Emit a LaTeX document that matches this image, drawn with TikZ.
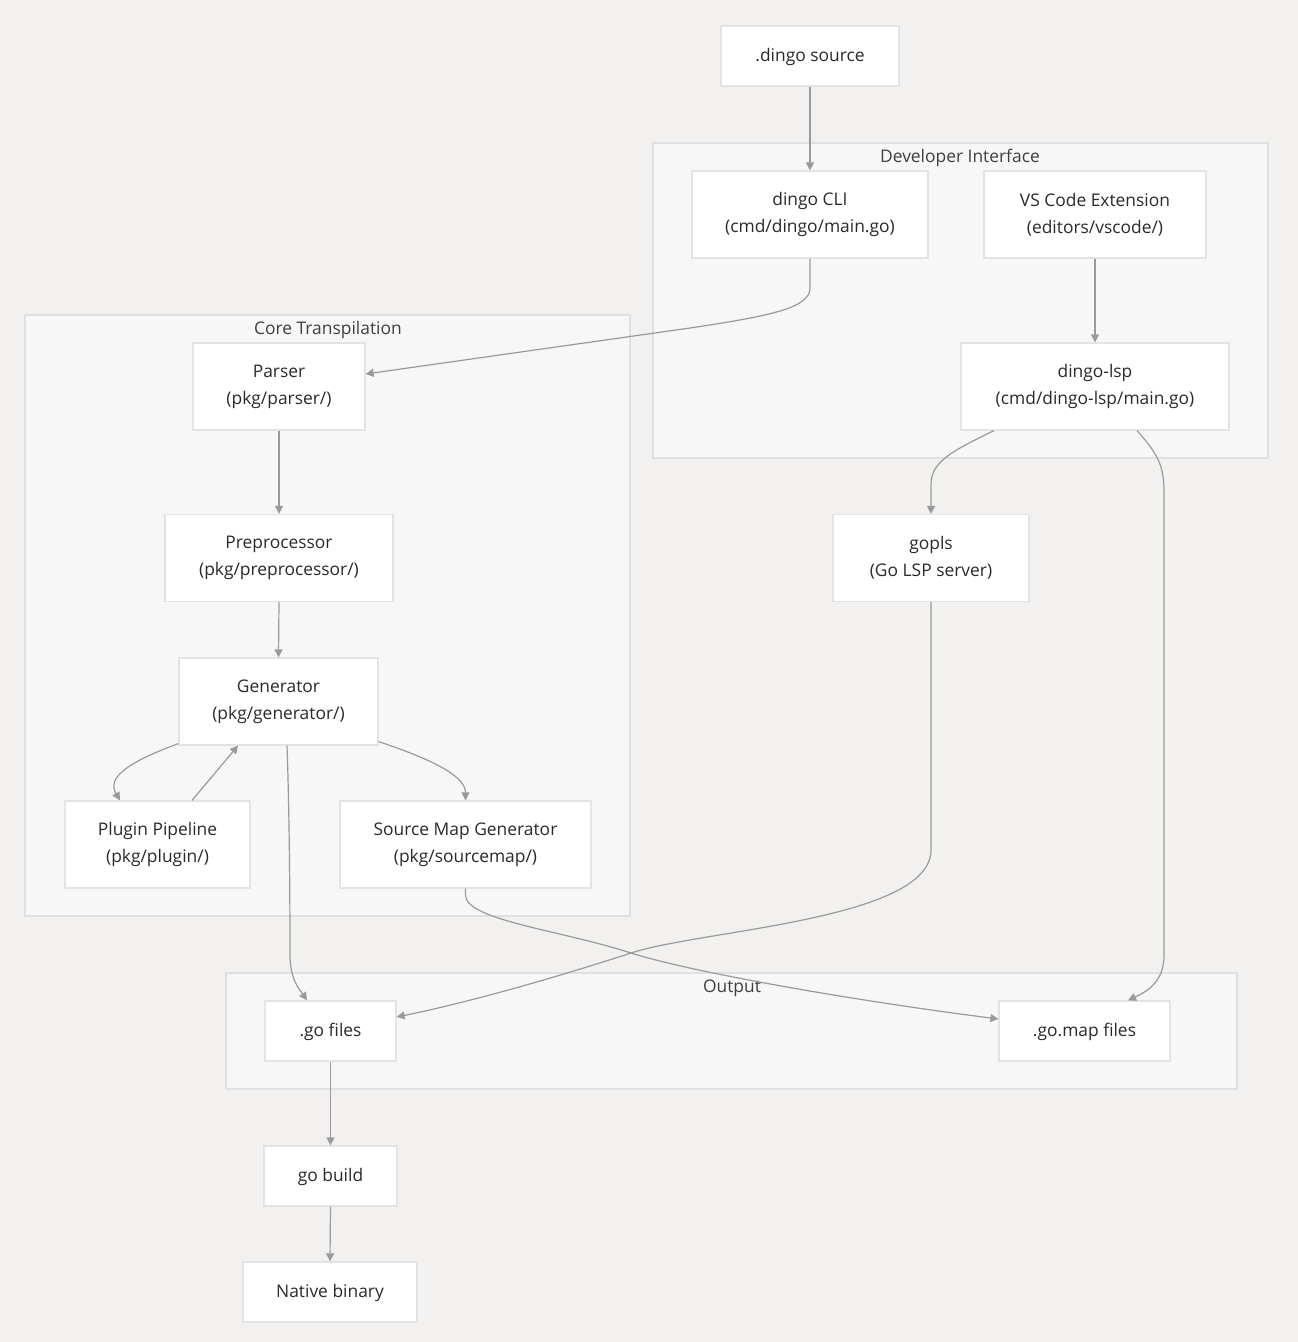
\documentclass[tikz,border=0pt]{standalone}
\usepackage{fontspec}
\setmainfont{Open Sans}
\usetikzlibrary{arrows.meta,calc}
\definecolor{pagebg}{HTML}{F2F1EF}
\definecolor{clusterfill}{HTML}{F7F7F7}
\definecolor{clusterline}{HTML}{E0E0E0}
\definecolor{boxline}{HTML}{E3E3E3}
\definecolor{edgecol}{HTML}{9A9A9A}
\definecolor{txt}{HTML}{2A2A2A}
\begin{document}
\begin{tikzpicture}[x=1pt,y=-1pt,
  box/.style={draw=boxline,line width=1.2pt,fill=white,inner sep=0pt,align=center,
    text=txt,font=\fontsize{17.4}{27}\selectfont,
    execute at begin node={\rule{0pt}{17pt}}},
  cluster/.style={draw=clusterline,line width=1.2pt,fill=clusterfill},
  clabel/.style={text=txt!90,font=\fontsize{17.4}{20}\selectfont,inner sep=0pt},
  link/.style={draw=edgecol,line width=1.2pt,-{Triangle[length=8pt,width=8pt]}}]
% canvas
\fill[pagebg] (0,0) rectangle (1298,1342);
\useasboundingbox (0,0) rectangle (1298,1342);

% groups
\draw[cluster] (653,143) rectangle (1268,458);
\node[clabel] (devlbl) at (960,158) {Developer Interface};
\draw[cluster] (25,315) rectangle (630,916);
\node[clabel] (corelbl) at (328,330) {Core Transpilation};
\draw[cluster] (226,973) rectangle (1237,1089);
\node[clabel] (outlbl) at (732,988) {Output};

% boxes
\node[box,minimum width=178pt,minimum height=60pt] (src) at (810,56) {\strut .dingo source};
\node[box,minimum width=236pt,minimum height=87pt] (cli) at (810,214.5) {dingo CLI\\(cmd/dingo/main.go)};
\node[box,minimum width=222pt,minimum height=87pt] (vsc) at (1095,214.5) {VS Code Extension\\(editors/vscode/)};
\node[box,minimum width=268pt,minimum height=87pt] (lsp) at (1095,386.5) {dingo-lsp\\(cmd/dingo-lsp/main.go)};
\node[box,minimum width=172pt,minimum height=87pt] (parser) at (279,386.5) {Parser\\(pkg/parser/)};
\node[box,minimum width=228pt,minimum height=87pt] (prep) at (279,558) {Preprocessor\\(pkg/preprocessor/)};
\node[box,minimum width=199pt,minimum height=87pt] (gen) at (278.5,701.5) {Generator\\(pkg/generator/)};
\node[box,minimum width=185pt,minimum height=87pt] (plug) at (157.5,844.5) {Plugin Pipeline\\(pkg/plugin/)};
\node[box,minimum width=251pt,minimum height=87pt] (smap) at (465.5,844.5) {Source Map Generator\\(pkg/sourcemap/)};
\node[box,minimum width=196pt,minimum height=87pt] (gopls) at (931,558) {gopls\\(Go LSP server)};
\node[box,minimum width=131pt,minimum height=60pt] (gof) at (330.5,1031) {\strut .go files};
\node[box,minimum width=171pt,minimum height=60pt] (gomap) at (1084.5,1031) {\strut .go.map files};
\node[box,minimum width=133pt,minimum height=60pt] (build) at (330.5,1176) {\strut go build};
\node[box,minimum width=174pt,minimum height=60pt] (bin) at (330,1292) {\strut Native binary};

% connectors
\draw[link] (src.south) -- (cli.north);
\draw[link] (cli.south) -- (810,288) .. controls (810,308) and (770,316) .. (690,328)
  -- ([yshift=12.5pt]parser.east);
\draw[link] (vsc.south) -- (lsp.north);
\draw[link] ([xshift=-101pt]lsp.south) .. controls (950,452) and (931,462) .. (931,485)
  -- (gopls.north);
\draw[link] ([xshift=42pt]lsp.south) .. controls (1158,454) and (1164,466) .. (1164,492)
  -- (1164,955) .. controls (1164,980) and (1150,990) .. ([xshift=43.5pt]gomap.north);
\draw[link] (parser.south) -- (prep.north);
\draw[link] (prep.south) -- (gen.north);
\draw[link] ([yshift=2pt]gen.south west) .. controls (120,765) and (108,780)
  .. ([xshift=-37.5pt]plug.north);
\draw[link] ([xshift=34.5pt]plug.north) -- ([xshift=-40.5pt]gen.south);
\draw[link] ([yshift=4pt]gen.south east) .. controls (440,762) and (465.5,778)
  .. (smap.north);
\draw[link] ([xshift=8.5pt]gen.south) .. controls (289,800) and (290,880) .. (290,955)
  .. controls (290,980) and (300,990) .. ([xshift=-23.5pt]gof.north);
\draw[link] (gopls.south) -- (931,850) .. controls (931,920) and (700,930) .. (631,953)
  .. controls (576,971) and (480,1000) .. ([yshift=14pt]gof.east);
\draw[link] (smap.south) -- (465.5,895) .. controls (465.5,920) and (560,930) .. (631,953)
  .. controls (691,972) and (850,1000) .. ([yshift=12pt]gomap.west);
\draw[link] (gof.south) -- (build.north);
\draw[link] (build.south) -- (bin.north);
\end{tikzpicture}
\end{document}
